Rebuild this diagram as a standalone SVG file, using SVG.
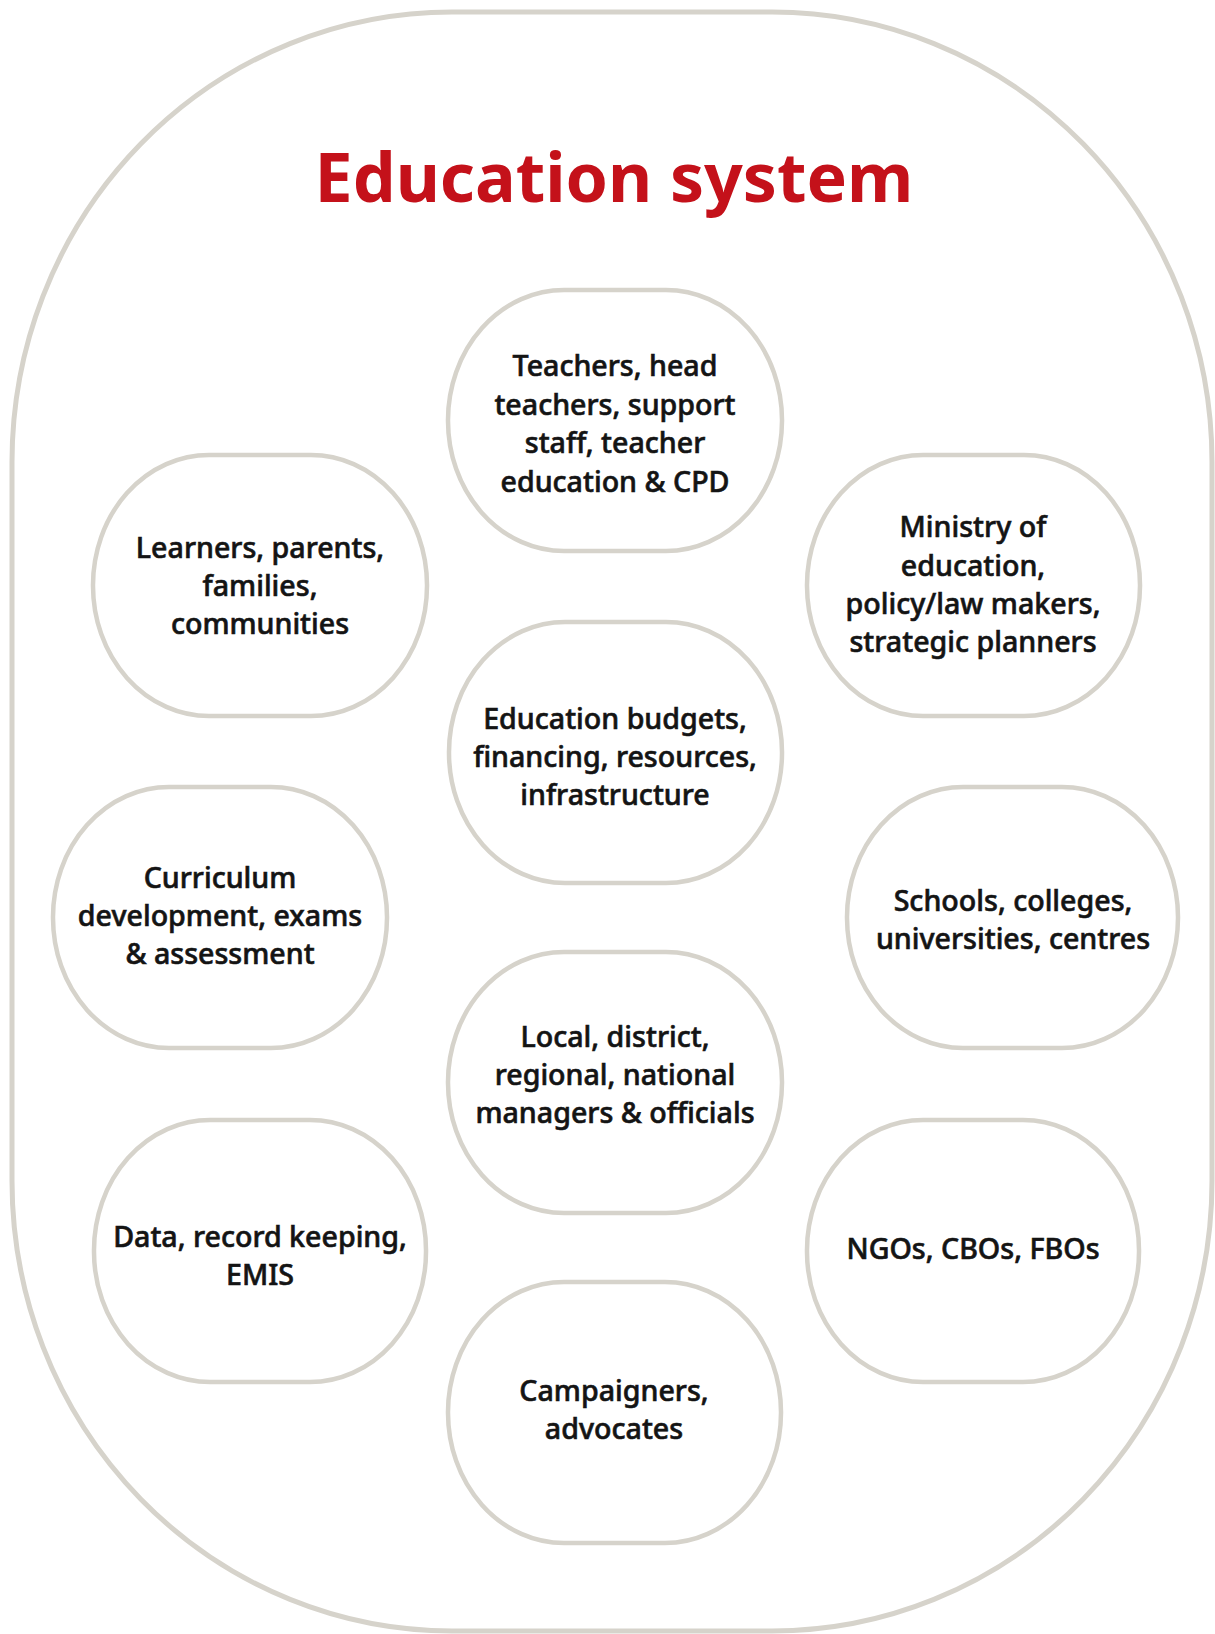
<svg xmlns="http://www.w3.org/2000/svg" width="1215" height="1634" viewBox="0 0 1215 1634">
<style>
.outer{fill:#ffffff;stroke:#d6d3cb;stroke-width:5}
.node{fill:#ffffff;stroke:#d6d3cb;stroke-width:4.5}
.t{font-family:"Noto Sans","Open Sans","Liberation Sans",sans-serif;font-size:28.6px;font-weight:500;fill:#141414;stroke:#141414;stroke-width:0.6;text-anchor:middle}
.title{font-family:"Noto Sans","Open Sans","Liberation Sans",sans-serif;font-size:68px;font-weight:700;fill:#c4111a;text-anchor:middle}
</style>
<rect width="1215" height="1634" fill="#ffffff"/>
<g id="system">
<rect class="outer" x="12" y="12" width="1200" height="1619" rx="440" ry="450"/>
<text class="title" x="614" y="202">Education system</text>
</g>
<g id="connectors"></g>
<g id="teachers">
<rect class="node" x="448" y="290" width="334" height="261" rx="116" ry="130"/>
<text class="t"><tspan x="615" y="376">Teachers, head</tspan><tspan x="615" y="414.5">teachers, support</tspan><tspan x="615" y="453">staff, teacher</tspan><tspan x="615" y="491.5">education &amp; CPD</tspan></text>
</g>
<g id="learners">
<rect class="node" x="93" y="455" width="334" height="261" rx="116" ry="130"/>
<text class="t"><tspan x="260" y="558">Learners, parents,</tspan><tspan x="260" y="596">families,</tspan><tspan x="260" y="634">communities</tspan></text>
</g>
<g id="ministry">
<rect class="node" x="807" y="455" width="333" height="261" rx="116" ry="130"/>
<text class="t"><tspan x="973" y="537">Ministry of</tspan><tspan x="973" y="575.5">education,</tspan><tspan x="973" y="614">policy/law makers,</tspan><tspan x="973" y="652">strategic planners</tspan></text>
</g>
<g id="budgets">
<rect class="node" x="449" y="622" width="333" height="261" rx="116" ry="130"/>
<text class="t"><tspan x="615" y="729">Education budgets,</tspan><tspan x="615" y="767">financing, resources,</tspan><tspan x="615" y="805">infrastructure</tspan></text>
</g>
<g id="curriculum">
<rect class="node" x="53" y="787" width="334" height="261" rx="116" ry="130"/>
<text class="t"><tspan x="220" y="888">Curriculum</tspan><tspan x="220" y="926">development, exams</tspan><tspan x="220" y="964">&amp; assessment</tspan></text>
</g>
<g id="schools">
<rect class="node" x="847" y="787" width="331" height="261" rx="116" ry="130"/>
<text class="t"><tspan x="1013" y="911">Schools, colleges,</tspan><tspan x="1013" y="949">universities, centres</tspan></text>
</g>
<g id="managers">
<rect class="node" x="448" y="952" width="334" height="261" rx="116" ry="130"/>
<text class="t"><tspan x="615" y="1047">Local, district,</tspan><tspan x="615" y="1085">regional, national</tspan><tspan x="615" y="1123">managers &amp; officials</tspan></text>
</g>
<g id="data">
<rect class="node" x="94" y="1120" width="332" height="262" rx="116" ry="130"/>
<text class="t"><tspan x="260" y="1247">Data, record keeping,</tspan><tspan x="260" y="1285">EMIS</tspan></text>
</g>
<g id="ngos">
<rect class="node" x="807" y="1120" width="332" height="262" rx="116" ry="130"/>
<text class="t"><tspan x="973" y="1259">NGOs, CBOs, FBOs</tspan></text>
</g>
<g id="campaigners">
<rect class="node" x="448" y="1282" width="333" height="261" rx="116" ry="130"/>
<text class="t"><tspan x="614" y="1401">Campaigners,</tspan><tspan x="614" y="1439">advocates</tspan></text>
</g>
</svg>
